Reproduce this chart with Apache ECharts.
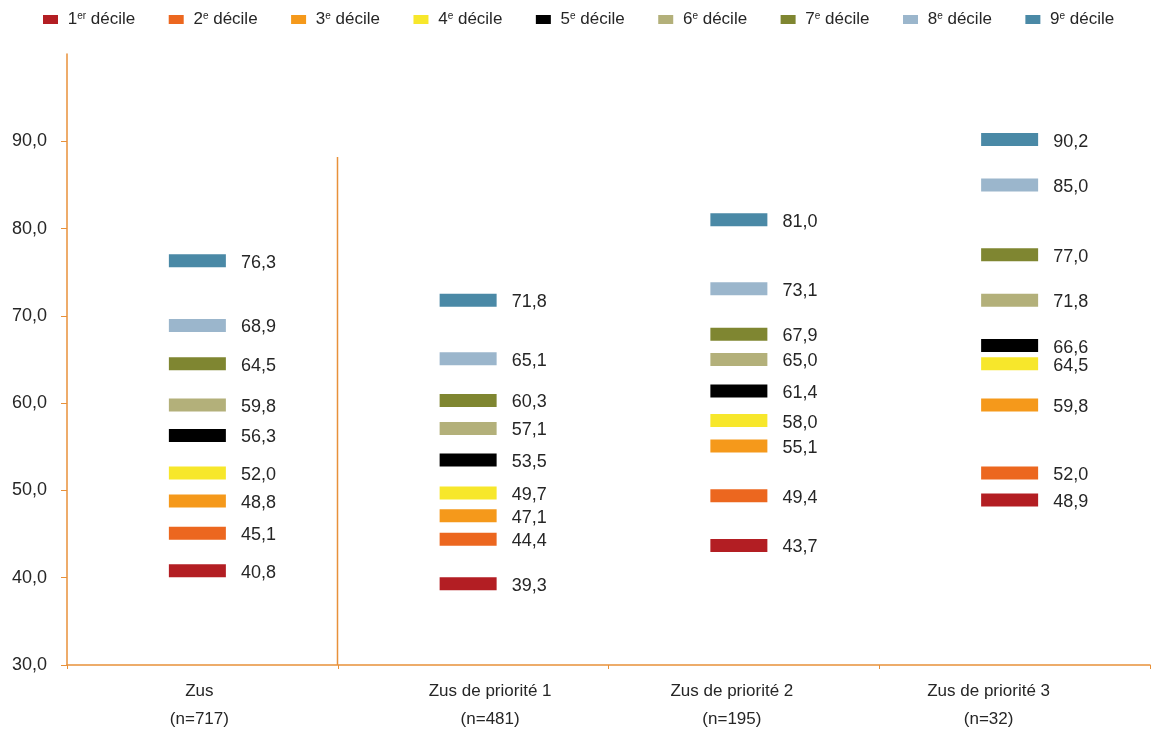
<!DOCTYPE html>
<html>
<head>
<meta charset="utf-8">
<script src="https://cdn.jsdelivr.net/npm/echarts@6/dist/echarts.min.js"></script>
<style>
  html, body { margin: 0; padding: 0; background: #fff; }
  #chart { width: 1158px; height: 733px; }
</style>
</head>
<body>
<div id="chart"></div>
<script>
// categories: group name and sample size
var groups = ['Zus', 'Zus de priorité 1', 'Zus de priorité 2', 'Zus de priorité 3'];
var sizes = ['(n=717)', '(n=481)', '(n=195)', '(n=32)'];

// decile names (number + superscript)
var decileNum = ['1', '2', '3', '4', '5', '6', '7', '8', '9'];
var decileSup = ['er', 'e', 'e', 'e', 'e', 'e', 'e', 'e', 'e'];
var decileColors = ['#B31E23', '#EC671F', '#F5991B', '#F7E72B', '#000000', '#B3B07A', '#7F8631', '#9BB6CC', '#4A89A6'];

// values per decile, one entry per category
var d1 = [40.8, 39.3, 43.7, 48.9];
var d2 = [45.1, 44.4, 49.4, 52.0];
var d3 = [48.8, 47.1, 55.1, 59.8];
var d4 = [52.0, 49.7, 58.0, 64.5];
var d5 = [56.3, 53.5, 61.4, 66.6];
var d6 = [59.8, 57.1, 65.0, 71.8];
var d7 = [64.5, 60.3, 67.9, 77.0];
var d8 = [68.9, 65.1, 73.1, 85.0];
var d9 = [76.3, 71.8, 81.0, 90.2];
var deciles = [d1, d2, d3, d4, d5, d6, d7, d8, d9];

// y ticks
var yMin = 30, yMax = 100, yStep = 10;

var orange = '#E8913A';
var textCol = '#262626';
var fontFam = '"Liberation Sans", Arial, sans-serif';
// small horizontal shifts of the category labels (as in the original layout)
var labelShift = [-3, 17, -12, -26];

function fmt(v) { return v.toFixed(1).replace('.', ','); }

var series = deciles.map(function (vals, i) {
  return {
    name: 'd' + (i + 1),
    type: 'scatter',
    symbol: 'rect',
    symbolSize: [57, 13],
    symbolOffset: [-5, 0],
    itemStyle: { color: decileColors[i], opacity: 1 },
    label: {
      show: true,
      position: 'right',
      distance: 15,
      offset: [0, 2],
      color: textCol,
      fontFamily: fontFam,
      fontSize: 18,
      formatter: function (p) { return fmt(p.value); }
    },
    emphasis: { disabled: true },
    data: vals
  };
});

var catRich = {};
labelShift.forEach(function (s, i) {
  catRich['c' + i] = {
    color: textCol, fontFamily: fontFam, fontSize: 17, lineHeight: 28,
    padding: s >= 0 ? [0, 0, 0, 2 * s] : [0, -2 * s, 0, 0]
  };
});

var myChart = echarts.init(document.getElementById('chart'));
myChart.setOption({
  backgroundColor: '#fff',
  animation: false,
  legend: {
    left: 38,
    top: 6,
    itemWidth: 15,
    itemHeight: 9,
    itemGap: 33.5,
    icon: 'rect',
    data: series.map(function (s) { return s.name; }),
    formatter: function (name) {
      var i = parseInt(name.slice(1), 10) - 1;
      return ' ' + decileNum[i] + '{sup|' + decileSup[i] + '}{t| décile}';
    },
    textStyle: {
      fontFamily: fontFam,
      fontSize: 17,
      color: textCol,
      rich: {
        sup: { fontFamily: fontFam, fontSize: 10, color: textCol, verticalAlign: 'top', padding: [0, 0, 7, 0] },
        t: { fontFamily: fontFam, fontSize: 17, color: textCol }
      }
    }
  },
  grid: { left: 67, right: 8, top: 54, bottom: 63 },
  xAxis: {
    type: 'category',
    data: groups,
    boundaryGap: true,
    axisLine: { lineStyle: { color: orange, width: 1.5 } },
    axisTick: { show: true, length: 4, lineStyle: { color: orange } },
    axisLabel: {
      color: textCol,
      fontFamily: fontFam,
      fontSize: 17,
      lineHeight: 28,
      margin: 12,
      interval: 0,
      formatter: function (v, i) {
        return '{c' + i + '|' + v + '}\n{c' + i + '|' + sizes[i] + '}';
      },
      rich: catRich
    },
    splitLine: { show: false }
  },
  yAxis: {
    type: 'value',
    min: yMin,
    max: yMax,
    interval: yStep,
    axisLine: { show: true, lineStyle: { color: orange, width: 1.5 } },
    axisTick: { show: true, length: 6, lineStyle: { color: orange } },
    axisLabel: {
      showMaxLabel: false,
      color: textCol,
      fontFamily: fontFam,
      fontSize: 18,
      margin: 20,
      formatter: function (v) { return fmt(v); }
    },
    splitLine: { show: false }
  },
  series: series
});

// separator between "Zus" and the priority groups
var x0 = myChart.convertToPixel({ xAxisIndex: 0 }, 0);
var x1 = myChart.convertToPixel({ xAxisIndex: 0 }, 1);
var xs = Math.round((x0 + x1) / 2) - 0.5;
var yTop = myChart.convertToPixel({ yAxisIndex: 0 }, 88.2);
var yBot = myChart.convertToPixel({ yAxisIndex: 0 }, yMin);
myChart.setOption({
  graphic: [{
    type: 'line',
    shape: { x1: xs, y1: yTop, x2: xs, y2: yBot },
    style: { stroke: orange, lineWidth: 1.5 },
    silent: true
  }]
});

window.addEventListener('resize', function () { myChart.resize(); });
</script>
</body>
</html>
